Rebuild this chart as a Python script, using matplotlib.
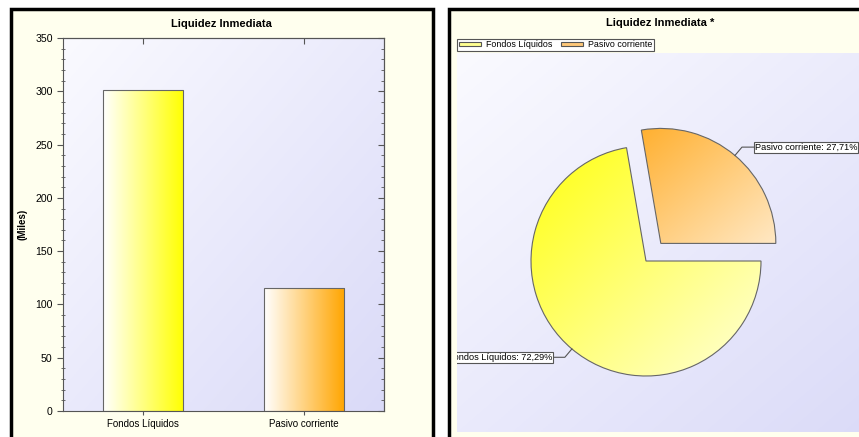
import numpy as np
import matplotlib
matplotlib.use('Agg')
import matplotlib.pyplot as plt
from matplotlib.patches import Rectangle, Patch
from matplotlib.colors import to_rgb
from matplotlib.ticker import MultipleLocator

plt.rcParams['font.family'] = ['Liberation Sans', 'DejaVu Sans']

# ---- data ----
categories = ['Fondos Líquidos', 'Pasivo corriente']
values = [300.9, 115.34]          # Miles
bar_colors = ['#FFFF00', '#FFA500']
pie_dark = ['#FFFF10', '#FFB030']
pie_light = ['#FFFFD8', '#FFE8C4']
legend_colors = ['#FFFF90', '#FFC878']
left_title = 'Liquidez Inmediata'
right_title = 'Liquidez Inmediata *'
y_label = '(Miles)'
y_ticks = [0, 50, 100, 150, 200, 250, 300, 350]

W, H = 859, 437
fig = plt.figure(figsize=(W / 100, H / 100), dpi=100)
fig.patch.set_facecolor('white')


def fx(x):
    return x / W


def fy(y):
    return 1 - y / H


def grad_image(c0, c1, direction='diag', n=200):
    c0 = np.array(to_rgb(c0))
    c1 = np.array(to_rgb(c1))
    xs = np.linspace(0, 1, n)
    X, Y = np.meshgrid(xs, xs)
    t = (X + Y) / 2 if direction == 'diag' else X
    return c0[None, None, :] * (1 - t[..., None]) + c1[None, None, :] * t[..., None]


panel_bg = '#FFFFEE'
for x0, x1 in [(10.5, 432.5), (449.5, 900)]:
    fig.patches.append(Rectangle((fx(x0), fy(480)), fx(x1) - fx(x0), fy(8.5) - fy(480),
                                 transform=fig.transFigure, facecolor=panel_bg,
                                 edgecolor='black', linewidth=2.5, zorder=-5))

axis_col = '#555555'

# ---- left: bar chart ----
ax = fig.add_axes([fx(63), fy(411), fx(384) - fx(63), fy(38) - fy(411)])
ax.set_zorder(2)
ax.set_facecolor('none')
ax.imshow(grad_image('#FAFAFF', '#DADAF8'), extent=[0, 1, 0, 1], transform=ax.transAxes,
          aspect='auto', zorder=0)
x = np.arange(len(categories))
bars = ax.bar(x, values, width=0.5, facecolor='none', edgecolor='#666666', linewidth=0.8, zorder=3)
for b, c in zip(bars, bar_colors):
    x0, y0, w, h = b.get_x(), b.get_y(), b.get_width(), b.get_height()
    im = ax.imshow(grad_image('#FFFFFF', c, 'h'), extent=[x0, x0 + w, y0, y0 + h],
                   aspect='auto', zorder=2)
    im.set_clip_path(b)
ax.set_xlim(-0.5, 1.5)
ax.set_ylim(0, 350)
ax.set_aspect('auto')
ax.set_xticks(x, categories)
ax.set_yticks(y_ticks)
ax.yaxis.set_minor_locator(MultipleLocator(10))
ax.tick_params(axis='x', direction='inout', length=6, width=0.8, color=axis_col, labelsize=7, pad=3)
ax.tick_params(axis='y', which='major', direction='out', length=4, width=0.8, color=axis_col,
               labelsize=7.6, pad=3.5)
ax.tick_params(axis='y', which='minor', direction='inout', length=3, width=0.6, color=axis_col)
for s in ax.spines.values():
    s.set_color(axis_col)
    s.set_linewidth(0.8)
sr = ax.secondary_yaxis('right')
sr.set_yticks(y_ticks)
sr.yaxis.set_minor_locator(MultipleLocator(10))
sr.tick_params(which='major', direction='in', length=4, width=0.8, color=axis_col, labelright=False)
sr.tick_params(which='minor', direction='in', length=2, width=0.6, color=axis_col)
sr.spines['right'].set_color(axis_col)
sr.spines['right'].set_linewidth(0.8)
st = ax.secondary_xaxis('top')
st.set_xticks(x)
st.tick_params(direction='in', length=4, width=0.8, color=axis_col, labeltop=False)
st.spines['top'].set_color(axis_col)
st.spines['top'].set_linewidth(0.8)
ax.set_ylabel(y_label, fontsize=7, fontweight='bold')
ax.yaxis.set_label_coords((28 - 63) / 321, 0.5)
fig.text(fx(221), fy(24), left_title, ha='center', va='center', fontsize=8, fontweight='bold')

# ---- right: pie chart ----
R = 115.0
cxp, cyp = 646.0, H - 261.0
ax2 = fig.add_axes([fx(457), fy(432), fx(900) - fx(457), fy(53) - fy(432)])
ax2.set_zorder(2)
ax2.set_facecolor('none')
ax2.imshow(grad_image('#FAFAFF', '#DADAF8'), extent=[0, 1, 0, 1], transform=ax2.transAxes,
           aspect='auto', zorder=0)
total = sum(values)
start = 360.0 * values[1] / total
wedges, _ = ax2.pie(values, startangle=start, counterclock=True, explode=[0, 0.2],
                    radius=1, center=(0, 0), frame=True,
                    wedgeprops=dict(facecolor='none', edgecolor='#666666', linewidth=0.8, zorder=3))
for wdg, c0, c1 in zip(wedges, pie_dark, pie_light):
    bb = wdg.get_path().get_extents(wdg.get_patch_transform())
    im = ax2.imshow(grad_image(c0, c1), extent=[bb.x0, bb.x1, bb.y0, bb.y1], aspect='auto', zorder=2)
    im.set_clip_path(wdg)
ax2.set_xlim((457 - cxp) / R, (900 - cxp) / R)
ax2.set_ylim((H - 432 - cyp) / R, (H - 53 - cyp) / R)
ax2.set_aspect('auto')
ax2.set_xticks([])
ax2.set_yticks([])
for s in ax2.spines.values():
    s.set_visible(False)

for wdg, name, v in zip(wedges, categories, values):
    pct = 100 * v / total
    txt = f'{name}: {pct:.2f}%'.replace('.', ',')
    m = np.deg2rad((wdg.theta1 + wdg.theta2) / 2)
    cx, cy = wdg.center
    ex, ey = cx + np.cos(m), cy + np.sin(m)
    elx, ely = ex + 0.095 * np.cos(m), ey + 0.095 * np.sin(m)
    sgn = 1 if np.cos(m) > 0 else -1
    endx = elx + sgn * 0.1
    ax2.plot([ex, elx, endx], [ey, ely, ely], color='#555555', lw=0.8, zorder=4)
    ax2.text(endx + sgn * 0.01, ely, txt, ha='left' if sgn > 0 else 'right', va='center',
             fontsize=6.6, zorder=5, clip_on=True,
             bbox=dict(boxstyle='square,pad=0.12', fc='white', ec='#555555', lw=0.8))

handles = [Patch(facecolor=c, edgecolor='#555555', linewidth=0.8) for c in legend_colors]
leg = fig.legend(handles, categories, loc='upper left', bbox_to_anchor=(fx(457), fy(38.5)),
                 ncol=2, fontsize=6.4, frameon=True, fancybox=False, edgecolor='#555555',
                 framealpha=1, facecolor='white', handlelength=2.5, handleheight=0.4,
                 handletextpad=0.6, columnspacing=0.9, borderpad=0.2, borderaxespad=0)
leg.get_frame().set_linewidth(0.8)
fig.text(fx(660), fy(23), right_title, ha='center', va='center', fontsize=8, fontweight='bold')

fig.savefig('out.png', dpi=100)
